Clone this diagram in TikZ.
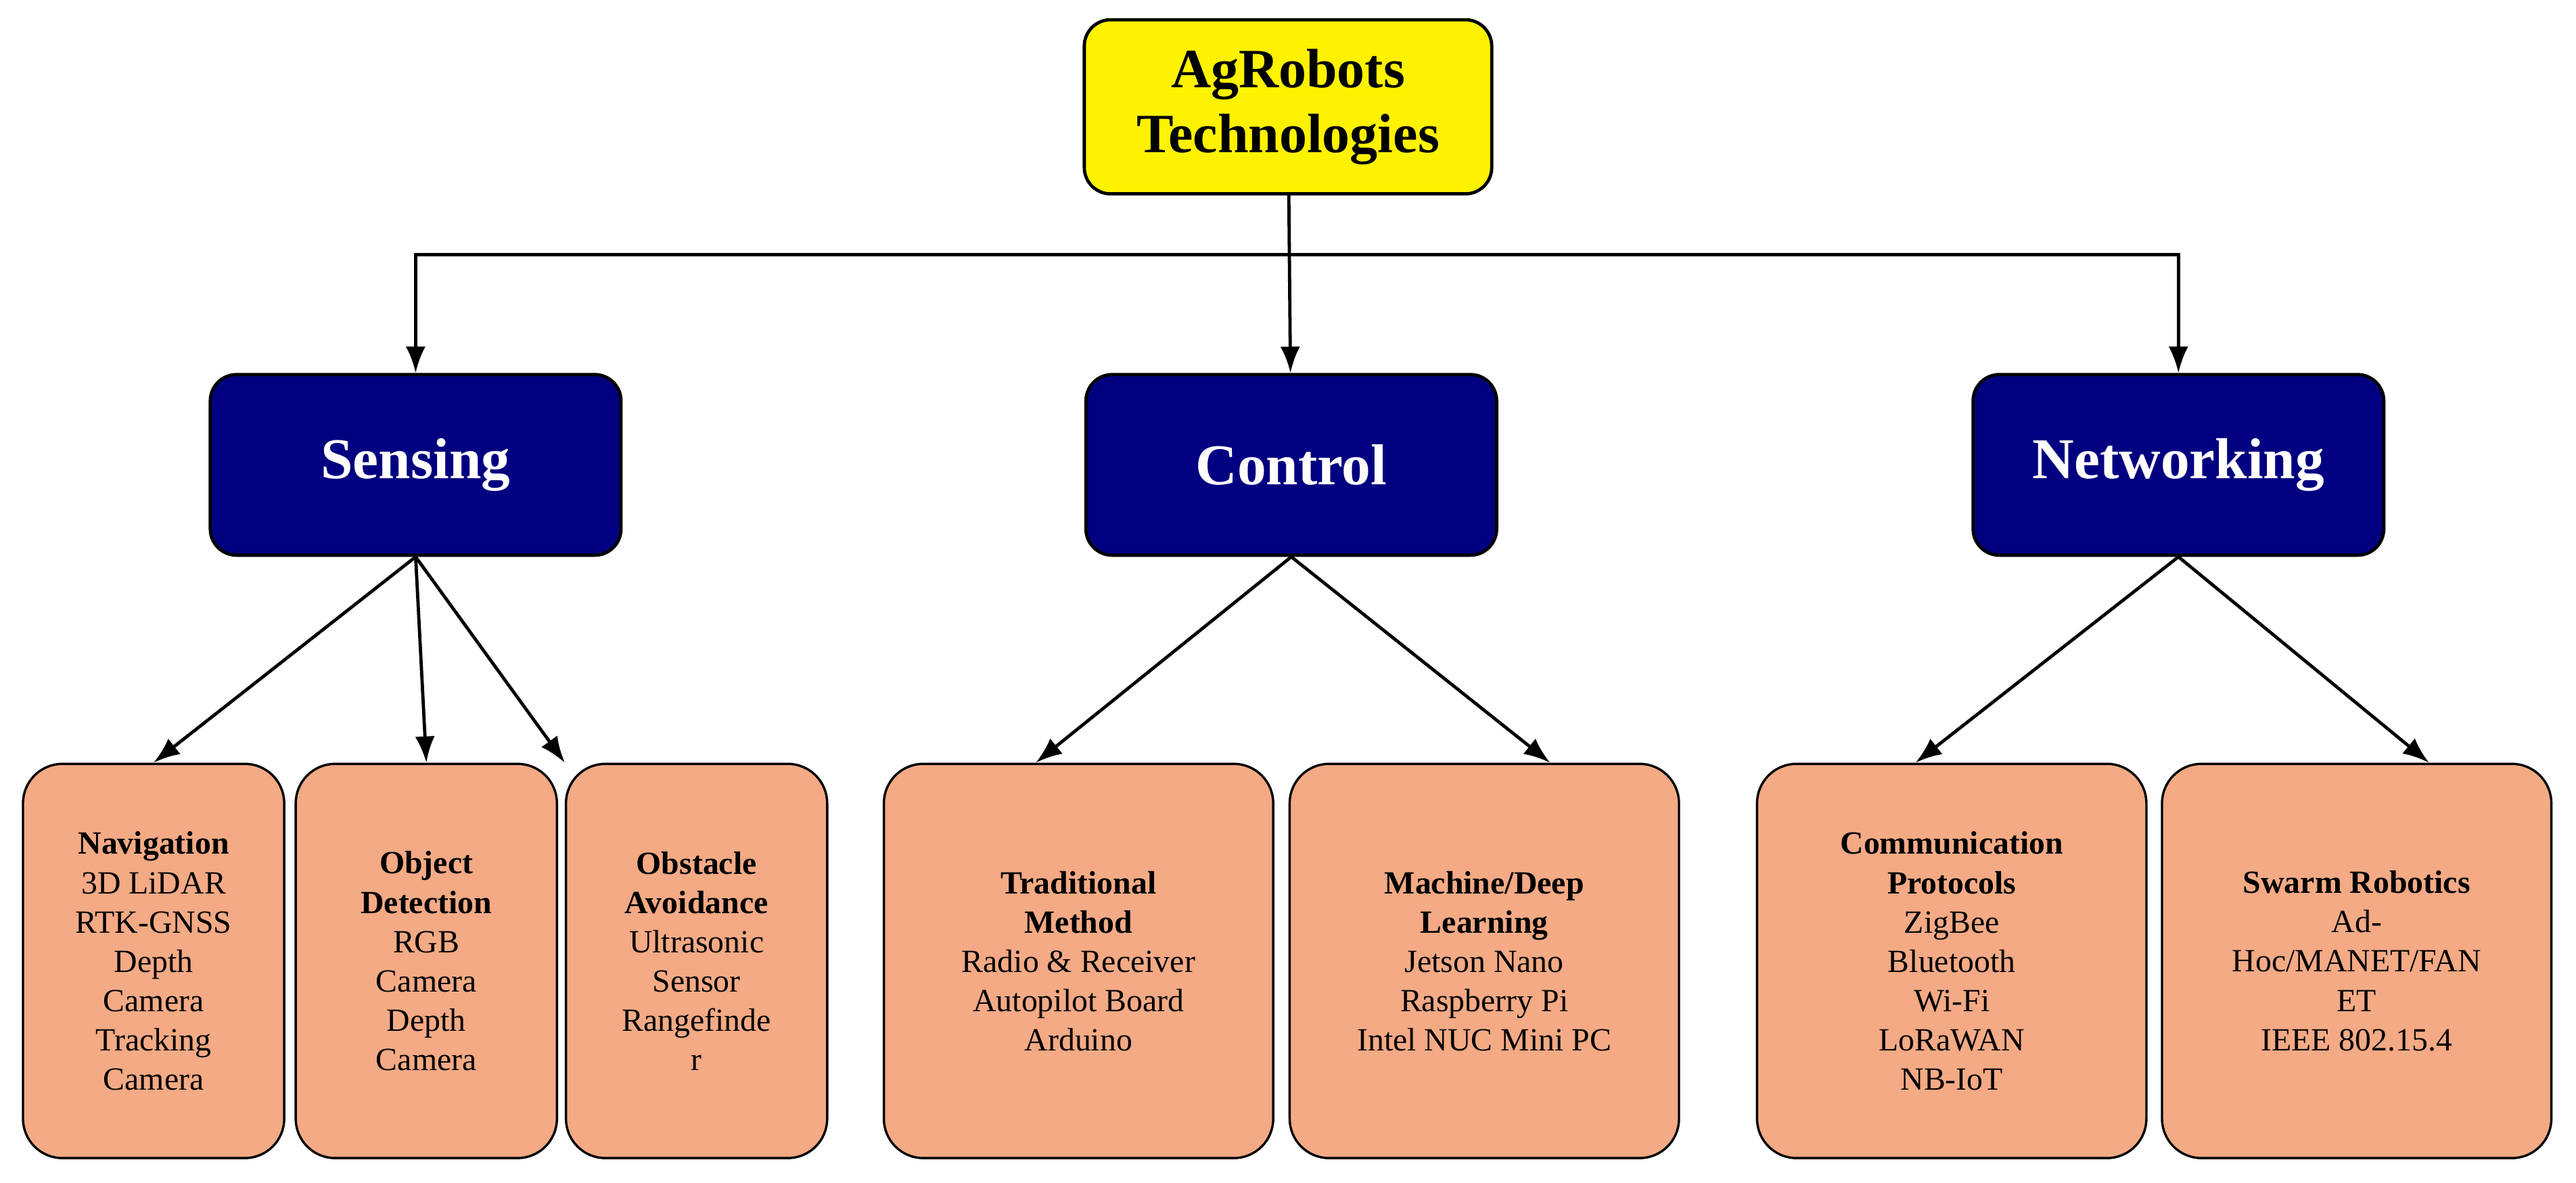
\documentclass[tikz,border=0pt]{standalone}
\usepackage{fontspec}
\setmainfont{Liberation Serif}
\usetikzlibrary{arrows.meta}
\tikzset{
  root/.style={draw, line width=1.4pt, rounded corners=4mm, fill=yellow,
    minimum width=62mm, minimum height=26.5mm, align=center,
    font=\fontsize{24}{28}\selectfont\bfseries},
  branch/.style={draw, line width=1.4pt, rounded corners=4mm, fill=blue!50!black,
    text=white, minimum width=62.5mm, minimum height=27.5mm,
    font=\fontsize{25}{30}\selectfont\bfseries},
  leaf/.style={draw, line width=1pt, rounded corners=6mm, fill=orange!45!pink!90!red!80,
    minimum height=60mm, align=center, font=\fontsize{14}{17}\selectfont},
  narrow/.style={leaf, minimum width=39.75mm},
  wide/.style={leaf, minimum width=59.25mm},
  link/.style={line width=1.4pt, -{Latex[length=4mm,width=3mm]}}
}
\begin{document}
\begin{tikzpicture}[x=0.25mm,y=-0.25mm]
\useasboundingbox (0,0) rectangle (1568,720);
% top
\node[root] (top) at (784,65) {AgRobots\\Technologies};
% middle row
\node[branch] (sense) at (253,283) {Sensing};
\node[branch] (ctrl) at (786,283) {Control};
\node[branch] (net) at (1326,283) {Networking};
% bottom row
\tikzset{leaf/.append style={fill={rgb,255:red,243;green,170;blue,133}}}
\node[narrow] (nav) at (93.5,585) {\textbf{Navigation}\\3D LiDAR\\RTK-GNSS\\Depth\\Camera\\Tracking\\Camera};
\node[narrow] (obj) at (259.5,585) {\textbf{Object}\\\textbf{Detection}\\RGB\\Camera\\Depth\\Camera};
\node[narrow] (obs) at (424,585) {\textbf{Obstacle}\\\textbf{Avoidance}\\Ultrasonic\\Sensor\\Rangefinde\\r};
\node[wide] (trad) at (656.5,585) {\textbf{Traditional}\\\textbf{Method}\\Radio \& Receiver\\Autopilot Board\\Arduino};
\node[wide] (mach) at (903.5,585) {\textbf{Machine/Deep}\\\textbf{Learning}\\Jetson Nano\\Raspberry Pi\\Intel NUC Mini PC};
\node[wide] (comm) at (1188,585) {\textbf{Communication}\\\textbf{Protocols}\\ZigBee\\Bluetooth\\Wi-Fi\\LoRaWAN\\NB-IoT};
\node[wide] (swarm) at (1434.5,585) {\textbf{Swarm Robotics}\\Ad-\\Hoc/MANET/FAN\\ET\\IEEE 802.15.4};
% connectors
\coordinate (bus) at (786,155);
\draw[link] (top) -- (ctrl);
\draw[link] (bus) -| (sense);
\draw[link] (bus) -| (net);
\draw[link] (sense.south) -- (nav.north);
\draw[link] (sense.south) -- (obj.north);
\draw[link] (sense.south) -- (obs.north west);
\draw[link] (ctrl.south) -- ([xshift=-6.5mm]trad.north);
\draw[link] (ctrl.south) -- ([xshift=10mm]mach.north);
\draw[link] (net.south) -- ([xshift=-5.5mm]comm.north);
\draw[link] (net.south) -- ([xshift=11mm]swarm.north);
\end{tikzpicture}
\end{document}
